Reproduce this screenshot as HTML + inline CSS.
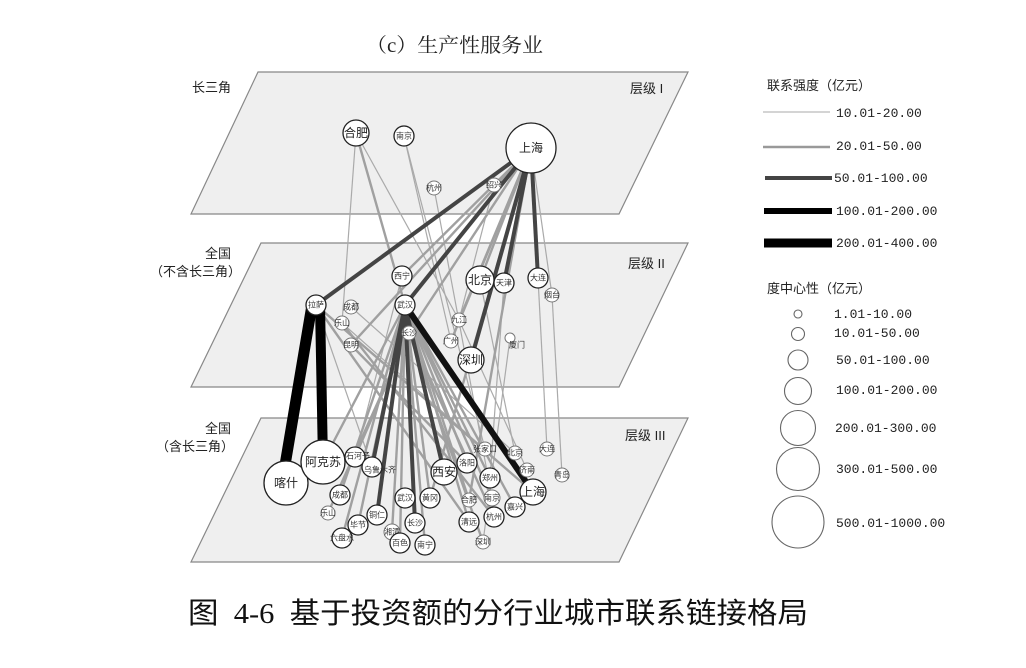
<!DOCTYPE html>
<html><head><meta charset="utf-8"><style>
html,body{margin:0;padding:0;background:#fff;}
svg{display:block;font-family:"Liberation Sans","Noto Sans CJK SC",sans-serif;}
.n{fill:#fff;stroke:#222;stroke-width:1.3}
.s{fill:#fff;stroke:#777;stroke-width:1}
.t{font-size:12px;fill:#222;text-anchor:middle;dominant-baseline:central}
.ts{font-size:8px;fill:#333;text-anchor:middle;dominant-baseline:central}
.lg{font-size:13px;fill:#222}
</style></head><body>
<svg width="1026" height="668" viewBox="0 0 1026 668">
<text x="366" y="52" font-size="20" textLength="177" lengthAdjust="spacingAndGlyphs" font-family="Liberation Serif,Noto Serif CJK SC,serif" fill="#222">（c）生产性服务业</text>

<polygon points="258,72 688,72 619,214 191,214" fill="#efefef" stroke="#888" stroke-width="1.2"/>
<polygon points="261,243 688,243 619,387 191,387" fill="#efefef" stroke="#888" stroke-width="1.2"/>
<polygon points="261,418 688,418 619,562 191,562" fill="#efefef" stroke="#888" stroke-width="1.2"/>

<text x="192" y="92" font-size="13" fill="#222">长三角</text>
<text x="630" y="93" font-size="13" fill="#222">层级 I</text>
<text x="205" y="258" font-size="13" fill="#222">全国</text>
<text x="150" y="276" font-size="13" fill="#222">（不含长三角）</text>
<text x="628" y="268" font-size="13" fill="#222">层级 II</text>
<text x="205" y="433" font-size="13" fill="#222">全国</text>
<text x="156" y="451" font-size="13" fill="#222">（含长三角）</text>
<text x="625" y="440" font-size="13" fill="#222">层级 III</text>

<g stroke="#aaa" stroke-width="1.2" fill="none">
<line x1="356" y1="133" x2="342" y2="323"/>
<line x1="356" y1="133" x2="459" y2="320"/>
<line x1="404" y1="136" x2="451" y2="341"/>
<line x1="404" y1="136" x2="485" y2="449"/>
<line x1="434" y1="188" x2="492" y2="498"/>
<line x1="494" y1="185" x2="459" y2="320"/>
<line x1="531" y1="148" x2="552" y2="295"/>
<line x1="552" y1="295" x2="562" y2="475"/>
<line x1="538" y1="278" x2="547" y2="449"/>
<line x1="510" y1="338" x2="483" y2="542"/>
<line x1="459" y1="320" x2="527" y2="470"/>
<line x1="351" y1="307" x2="515" y2="453"/>
<line x1="342" y1="323" x2="533" y2="492"/>
<line x1="316" y1="305" x2="372" y2="467"/>
<line x1="402" y1="276" x2="355" y2="457"/>
<line x1="480" y1="280" x2="515" y2="453"/>
<line x1="504" y1="283" x2="490" y2="478"/>
</g>
<g stroke="#a0a0a0" stroke-width="2.4" fill="none">
<line x1="356" y1="133" x2="405" y2="305"/>
<line x1="531" y1="148" x2="402" y2="276"/>
<line x1="531" y1="148" x2="409" y2="333"/>
<line x1="531" y1="148" x2="451" y2="341"/>
<line x1="531" y1="148" x2="351" y2="345"/>
<line x1="531" y1="148" x2="459" y2="320"/>
<line x1="531" y1="148" x2="480" y2="280"/>
<line x1="531" y1="148" x2="430" y2="498"/>
<line x1="531" y1="148" x2="469" y2="500"/>
<line x1="316" y1="305" x2="533" y2="492"/>
<line x1="316" y1="305" x2="469" y2="522"/>
<line x1="342" y1="323" x2="494" y2="517"/>
<line x1="351" y1="345" x2="467" y2="463"/>
<line x1="405" y1="305" x2="323" y2="462"/>
<line x1="405" y1="305" x2="340" y2="495"/>
<line x1="405" y1="305" x2="358" y2="525"/>
<line x1="405" y1="305" x2="342" y2="538"/>
<line x1="405" y1="305" x2="392" y2="532"/>
<line x1="405" y1="305" x2="400" y2="543"/>
<line x1="405" y1="305" x2="425" y2="545"/>
<line x1="405" y1="305" x2="430" y2="498"/>
<line x1="405" y1="305" x2="469" y2="500"/>
<line x1="405" y1="305" x2="492" y2="498"/>
<line x1="405" y1="305" x2="469" y2="522"/>
<line x1="405" y1="305" x2="467" y2="463"/>
<line x1="405" y1="305" x2="490" y2="478"/>
<line x1="405" y1="305" x2="515" y2="507"/>
<line x1="409" y1="333" x2="355" y2="457"/>
<line x1="409" y1="333" x2="328" y2="513"/>
<line x1="409" y1="333" x2="494" y2="517"/>
<line x1="409" y1="333" x2="483" y2="542"/>
</g>
<g stroke="#444" stroke-width="4" fill="none">
<line x1="531" y1="148" x2="316" y2="305"/>
<line x1="531" y1="148" x2="405" y2="305"/>
<line x1="531" y1="148" x2="471" y2="360"/>
<line x1="531" y1="148" x2="538" y2="278"/>
<line x1="531" y1="148" x2="504" y2="283"/>
<line x1="405" y1="305" x2="372" y2="467"/>
<line x1="405" y1="305" x2="377" y2="515"/>
<line x1="405" y1="305" x2="444" y2="472"/>
<line x1="405" y1="305" x2="415" y2="523"/>
</g>
<line x1="405" y1="305" x2="533" y2="492" stroke="#111" stroke-width="6"/>
<line x1="312" y1="305" x2="282" y2="483" stroke="#000" stroke-width="11"/>
<line x1="320" y1="305" x2="323" y2="462" stroke="#000" stroke-width="10"/>

<circle class="n" cx="356" cy="133" r="13"/><text class="t" x="356" y="133" font-size="12">合肥</text>
<circle class="n" cx="404" cy="136" r="10"/><text class="ts" x="404" y="136" font-size="9">南京</text>
<circle class="n" cx="531" cy="148" r="25"/><text class="t" x="531" y="148" font-size="22">上海</text>
<circle class="s" cx="434" cy="188" r="7"/><text class="ts" x="434" y="188" font-size="8">杭州</text>
<circle class="s" cx="494" cy="185" r="7"/><text class="ts" x="494" y="185" font-size="8">绍兴</text>

<circle class="n" cx="402" cy="276" r="10"/><text class="ts" x="402" y="276" font-size="10">西宁</text>
<circle class="n" cx="480" cy="280" r="14"/><text class="t" x="480" y="280" font-size="14">北京</text>
<circle class="n" cx="504" cy="283" r="10"/><text class="ts" x="504" y="283" font-size="11">天津</text>
<circle class="n" cx="538" cy="278" r="10"/><text class="ts" x="538" y="278" font-size="11">大连</text>
<circle class="s" cx="552" cy="295" r="7"/><text class="ts" x="552" y="295" font-size="8">烟台</text>
<circle class="n" cx="316" cy="305" r="10"/><text class="ts" x="316" y="305" font-size="10">拉萨</text>
<circle class="s" cx="351" cy="307" r="7"/><text class="ts" x="351" y="307" font-size="8">成都</text>
<circle class="n" cx="405" cy="305" r="10"/><text class="ts" x="405" y="305" font-size="11">武汉</text>
<circle class="s" cx="342" cy="323" r="7"/><text class="ts" x="342" y="323" font-size="8">乐山</text>
<circle class="s" cx="409" cy="333" r="7"/><text class="ts" x="409" y="333" font-size="8">长沙</text>
<circle class="s" cx="459" cy="320" r="7"/><text class="ts" x="459" y="320" font-size="8">九江</text>
<circle class="s" cx="451" cy="341" r="7"/><text class="ts" x="451" y="341" font-size="8">广州</text>
<circle class="s" cx="510" cy="338" r="5"/><text class="ts" x="517" y="345" font-size="8">厦门</text>
<circle class="s" cx="351" cy="345" r="7"/><text class="ts" x="351" y="345" font-size="8">昆明</text>
<circle class="n" cx="471" cy="360" r="13"/><text class="t" x="471" y="360" font-size="14">深圳</text>

<circle class="n" cx="286" cy="483" r="22"/><text class="t" x="286" y="483" font-size="18">喀什</text>
<circle class="n" cx="323" cy="462" r="22"/><text class="t" x="323" y="462" font-size="17">阿克苏</text>
<circle class="n" cx="355" cy="457" r="10"/><text class="ts" x="358" y="456" font-size="11">石河子</text>
<circle class="n" cx="372" cy="467" r="10"/><text class="ts" x="380" y="470" font-size="10">乌鲁木齐</text>
<circle class="n" cx="340" cy="495" r="10"/><text class="ts" x="340" y="495" font-size="11">成都</text>
<circle class="s" cx="328" cy="513" r="7"/><text class="ts" x="328" y="513" font-size="8">乐山</text>
<circle class="n" cx="358" cy="525" r="10"/><text class="ts" x="358" y="525" font-size="11">毕节</text>
<circle class="n" cx="342" cy="538" r="10"/><text class="ts" x="342" y="538" font-size="10">六盘水</text>
<circle class="n" cx="377" cy="515" r="10"/><text class="ts" x="377" y="515" font-size="11">铜仁</text>
<circle class="s" cx="392" cy="532" r="8"/><text class="ts" x="392" y="532" font-size="9">湘潭</text>
<circle class="n" cx="405" cy="498" r="10"/><text class="ts" x="405" y="498" font-size="11">武汉</text>
<circle class="n" cx="430" cy="498" r="10"/><text class="ts" x="430" y="498" font-size="11">黄冈</text>
<circle class="n" cx="415" cy="523" r="10"/><text class="ts" x="415" y="523" font-size="11">长沙</text>
<circle class="n" cx="400" cy="543" r="10"/><text class="ts" x="400" y="543" font-size="11">百色</text>
<circle class="n" cx="425" cy="545" r="10"/><text class="ts" x="425" y="545" font-size="11">南宁</text>
<circle class="n" cx="444" cy="472" r="13"/><text class="t" x="444" y="472" font-size="14">西安</text>
<circle class="n" cx="467" cy="463" r="10"/><text class="ts" x="467" y="463" font-size="11">洛阳</text>
<circle class="n" cx="490" cy="478" r="10"/><text class="ts" x="490" y="478" font-size="11">郑州</text>
<circle class="s" cx="485" cy="449" r="7"/><text class="ts" x="485" y="449" font-size="9">张家口</text>
<circle class="s" cx="515" cy="453" r="7"/><text class="ts" x="515" y="453" font-size="8">北京</text>
<circle class="s" cx="527" cy="470" r="7"/><text class="ts" x="527" y="470" font-size="8">济南</text>
<circle class="s" cx="547" cy="449" r="7"/><text class="ts" x="547" y="449" font-size="8">大连</text>
<circle class="s" cx="562" cy="475" r="7"/><text class="ts" x="562" y="475" font-size="8">青岛</text>
<circle class="s" cx="469" cy="500" r="7"/><text class="ts" x="469" y="500" font-size="8">合肥</text>
<circle class="s" cx="492" cy="498" r="8"/><text class="ts" x="492" y="498" font-size="9">南京</text>
<circle class="n" cx="494" cy="517" r="10"/><text class="ts" x="494" y="517" font-size="11">杭州</text>
<circle class="n" cx="469" cy="522" r="10"/><text class="ts" x="469" y="522" font-size="11">清远</text>
<circle class="s" cx="483" cy="542" r="7"/><text class="ts" x="483" y="542" font-size="8">深圳</text>
<circle class="n" cx="515" cy="507" r="10"/><text class="ts" x="515" y="507" font-size="11">嘉兴</text>
<circle class="n" cx="533" cy="492" r="13"/><text class="t" x="533" y="492" font-size="14">上海</text>

<text class="lg" x="767" y="90">联系强度（亿元）</text>
<line x1="763" y1="112" x2="830" y2="112" stroke="#aaa" stroke-width="1"/>
<line x1="763" y1="147" x2="830" y2="147" stroke="#999" stroke-width="2.5"/>
<line x1="765" y1="178" x2="832" y2="178" stroke="#444" stroke-width="4"/>
<line x1="764" y1="211" x2="832" y2="211" stroke="#000" stroke-width="6"/>
<line x1="764" y1="243" x2="832" y2="243" stroke="#000" stroke-width="9"/>
<g class="lg" font-family="Liberation Mono,monospace" font-size="13">
<text x="836" y="117">10.01-20.00</text>
<text x="836" y="150">20.01-50.00</text>
<text x="834" y="182">50.01-100.00</text>
<text x="836" y="215">100.01-200.00</text>
<text x="836" y="247">200.01-400.00</text>
</g>
<text class="lg" x="767" y="293">度中心性（亿元）</text>
<g fill="none" stroke="#666" stroke-width="1.1">
<circle cx="798" cy="314" r="4"/>
<circle cx="798" cy="334" r="6.5"/>
<circle cx="798" cy="360" r="10"/>
<circle cx="798" cy="391" r="13.5"/>
<circle cx="798" cy="428" r="17.5"/>
<circle cx="798" cy="469" r="21.5"/>
<circle cx="798" cy="522" r="26"/>
</g>
<g class="lg" font-family="Liberation Mono,monospace" font-size="13">
<text x="834" y="318">1.01-10.00</text>
<text x="834" y="337">10.01-50.00</text>
<text x="836" y="364">50.01-100.00</text>
<text x="836" y="394">100.01-200.00</text>
<text x="835" y="432">200.01-300.00</text>
<text x="836" y="473">300.01-500.00</text>
<text x="836" y="527">500.01-1000.00</text>
</g>

<text x="188" y="623" font-size="29" textLength="620" lengthAdjust="spacingAndGlyphs" font-family="Liberation Serif,Noto Sans CJK SC,sans-serif" fill="#111" xml:space="preserve">图  4-6  基于投资额的分行业城市联系链接格局</text>
</svg>
</body></html>
